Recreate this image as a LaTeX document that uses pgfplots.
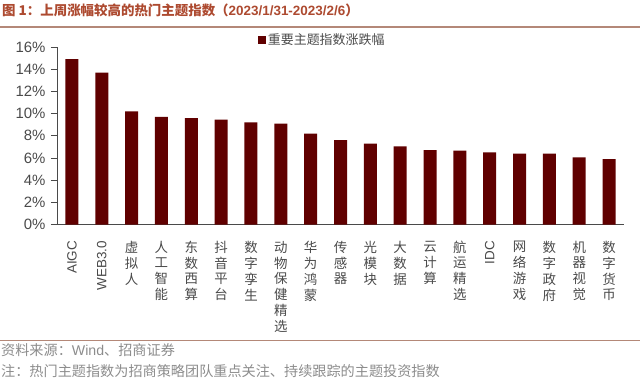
\documentclass[border=0pt]{standalone}
\usepackage{pgfplots}
\pgfplotsset{compat=1.18}
\usetikzlibrary{calc}
\usepackage{fontspec}
\setmainfont{Liberation Sans}
\newfontfamily\cjk{Noto Sans CJK SC}
\definecolor{barc}{HTML}{600000}
\definecolor{titlec}{HTML}{AD4A30}
\definecolor{rulec}{HTML}{B48878}
\definecolor{notec}{HTML}{8C8C8C}
\definecolor{tickc}{HTML}{4A4A4A}
\newcommand{\cv}[1]{{\cjk\begin{tabular}[t]{@{}c@{}}#1\end{tabular}}}
\newcommand{\lv}[1]{\rotatebox{90}{#1}}
\begin{document}
\begin{tikzpicture}
\begin{axis}[
  scale only axis, width=567bp, height=177.5bp,
  xmin=-0.5, xmax=18.5, ymin=0, ymax=16,
  axis x line*=bottom, axis y line*=left,
  axis line style={tickc, line width=0.6bp, -},
  ytick={0,2,...,16},
  yticklabel={\pgfmathprintnumber{\tick}\%},
  yticklabel style={font=\fontsize{15}{17}\selectfont, text=tickc, xshift=-2bp},
  /pgf/number format/assume math mode=true,
  xtick={0,...,18},
  xticklabels={\lv{AIGC},\lv{WEB3.0},\cv{虚\\拟\\人},\cv{人\\工\\智\\能},\cv{东\\数\\西\\算},\cv{抖\\音\\平\\台},\cv{数\\字\\孪\\生},\cv{动\\物\\保\\健\\精\\选},\cv{华\\为\\鸿\\蒙},\cv{传\\感\\器},\cv{光\\模\\块},\cv{大\\数\\据},\cv{云\\计\\算},\cv{航\\运\\精\\选},\lv{IDC},\cv{网\\络\\游\\戏},\cv{数\\字\\政\\府},\cv{机\\器\\视\\觉},\cv{数\\字\\货\\币}},
  xticklabel style={font=\fontsize{13.5}{15.5}\selectfont, text=tickc, anchor=north, yshift=-7bp},
  extra x ticks={-0.5,0.5,...,18.5},
  extra x tick labels={},
  extra x tick style={major tick length=5bp, tick style={draw=tickc, line width=0.6bp}},
  tick align=outside,
  major tick length=6bp,
  x tick style={draw=none},
  y tick style={draw=tickc, line width=0.6bp},
  ybar, bar width=13bp,
  legend style={at={(0.354,1.04)}, anchor=west, draw=none, fill=none, font=\fontsize{13}{15}\selectfont, text=tickc, inner sep=0pt},
  legend image code/.code={\fill[barc] (0bp,-4bp) rectangle (8bp,4bp);},
]
\addplot[fill=barc, draw=none, bar shift=0pt] coordinates {
(0,14.9) (1,13.7) (2,10.2) (3,9.7) (4,9.6) (5,9.45) (6,9.2) (7,9.1) (8,8.2)
(9,7.6) (10,7.3) (11,7.05) (12,6.7) (13,6.65) (14,6.5) (15,6.4) (16,6.4) (17,6.05) (18,5.9)};
\addlegendentry{\cjk 重要主题指数涨跌幅}
\coordinate (O) at (rel axis cs:0,0);
\end{axis}
\coordinate (P) at ($(O)+(-57bp,-156.5bp)$);
\path[use as bounding box] (P) rectangle ($(P)+(640bp,381bp)$);
\node[anchor=west, inner sep=0, text=titlec, font=\fontsize{13.5}{16}\selectfont\bfseries] at ($(P)+(2bp,371bp)$) {{\cjk\bfseries 图 1：上周涨幅较高的热门主题指数（}2023/1/31-2023/2/6{\cjk\bfseries ）}};
\draw[rulec, line width=1.2bp] ($(P)+(0,354bp)$) -- ($(P)+(640bp,354bp)$);
\draw[rulec, line width=1bp] ($(P)+(0,41bp)$) -- ($(P)+(640bp,41bp)$);
\node[anchor=west, inner sep=0, text=notec, font=\fontsize{14.2}{16}\selectfont] at ($(P)+(1bp,31bp)$) {\cjk 资料来源：{\rmfamily Wind}、招商证券};
\node[anchor=west, inner sep=0, text=notec, font=\fontsize{14.2}{16}\selectfont] at ($(P)+(1bp,10bp)$) {\cjk 注：热门主题指数为招商策略团队重点关注、持续跟踪的主题投资指数};
\end{tikzpicture}
\end{document}
